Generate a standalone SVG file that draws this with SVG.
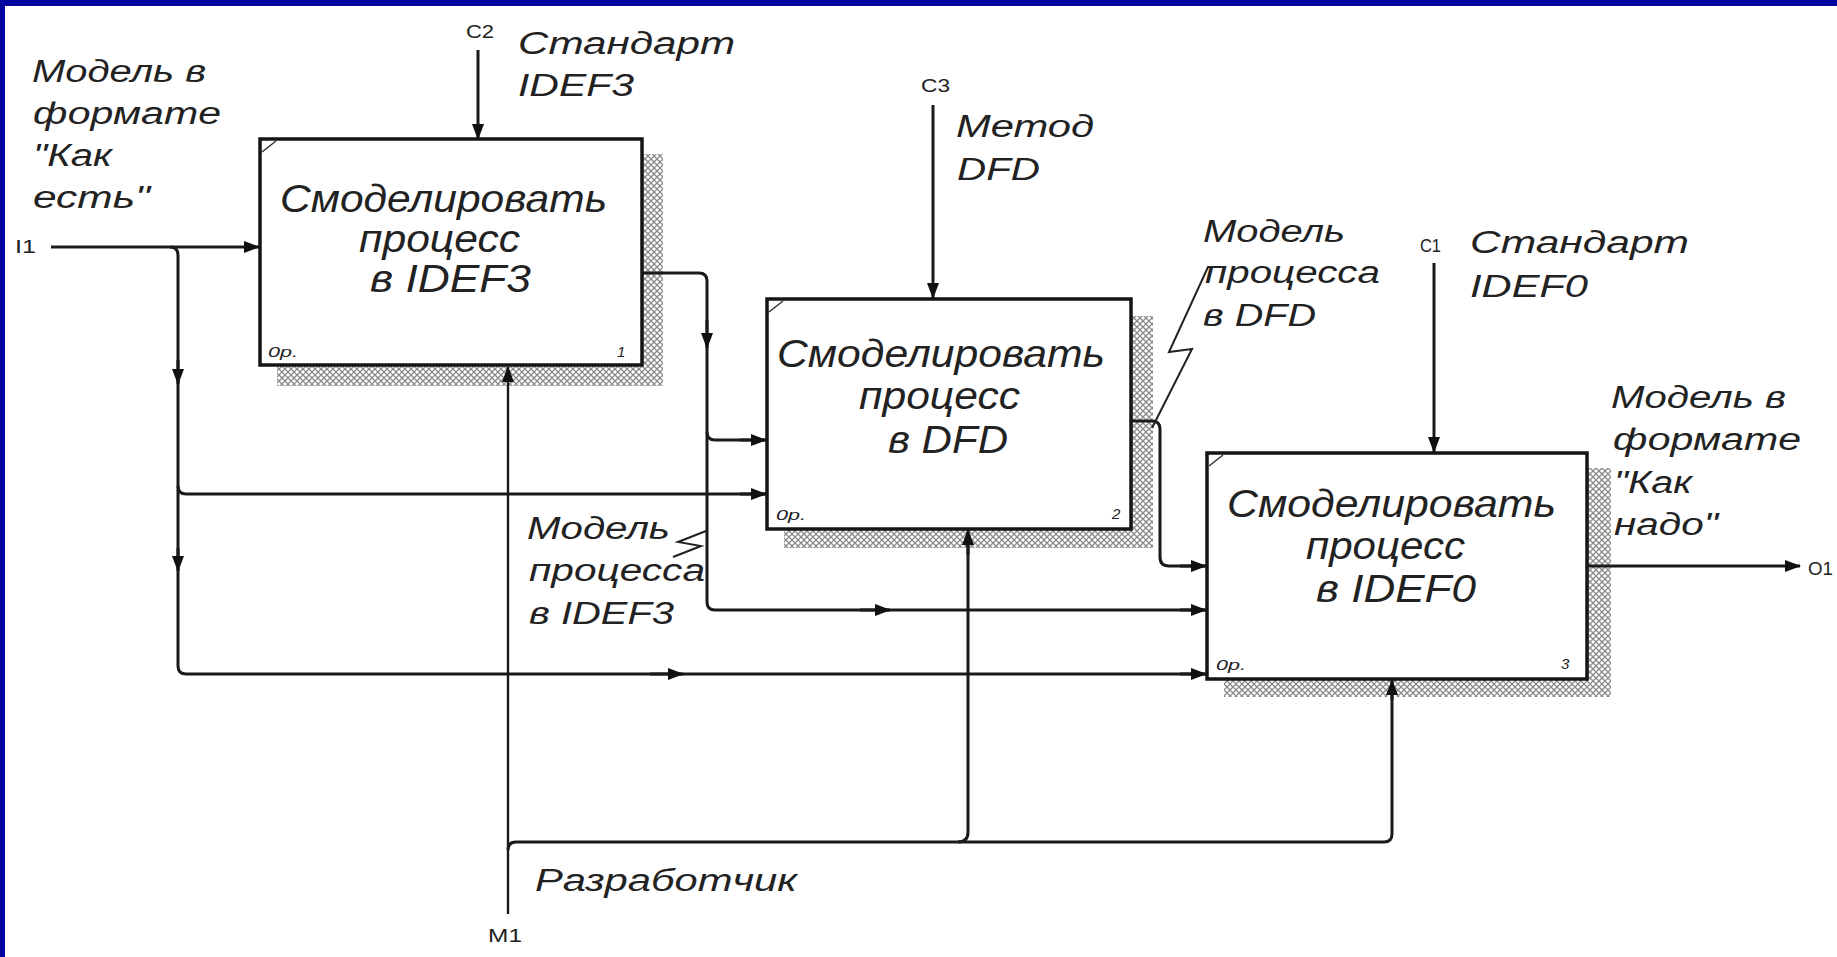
<svg xmlns="http://www.w3.org/2000/svg" width="1837" height="957" viewBox="0 0 1837 957">
<style>
.t{font-family:"Liberation Sans",Arial,sans-serif;font-style:italic;fill:#222;}
.bx{font-size:38px;}
.lb{font-size:31px;}
.sm{font-size:15px;}
.ic{font-family:"Liberation Sans",Arial,sans-serif;font-size:19px;fill:#222;}
.box{fill:#fff;stroke:#151515;stroke-width:3.5;}
.sh{fill:url(#hatch);}
.tick{stroke:#333;stroke-width:1.5;fill:none;}
.ln{fill:none;stroke:#1a1a1a;stroke-width:3;}
.thin{fill:none;stroke:#1a1a1a;stroke-width:2.4;}
.ar{fill:none;stroke:#1a1a1a;stroke-width:3;marker-end:url(#ah);}
.sq{fill:none;stroke:#222;stroke-width:2;}
</style>
<defs>
<pattern id="hatch" width="6" height="6" patternUnits="userSpaceOnUse">
<path d="M0,6 L6,0 M0,0 L6,6" stroke="#8a8a8a" stroke-width="1.3"/>
</pattern>
<marker id="ah" markerWidth="16" markerHeight="12" refX="15" refY="6" orient="auto" markerUnits="userSpaceOnUse">
<path d="M0,0 L16,6 L0,12 z" fill="#111"/>
</marker>
</defs>
<rect x="0" y="0" width="1837" height="957" fill="#fff"/>
<rect x="0" y="0" width="1837" height="6" fill="#0404a0"/>
<rect x="0" y="0" width="5" height="957" fill="#0404a0"/>

<g id="node1">
<rect class="sh" x="277" y="154" width="386" height="232"/>
<rect class="box" x="260" y="139" width="382" height="226"/>
<path class="tick" d="M262,152 L276,141"/>
<text class="t bx" x="280" y="212" textLength="327" lengthAdjust="spacingAndGlyphs">Смоделировать</text>
<text class="t bx" x="359" y="252" textLength="161" lengthAdjust="spacingAndGlyphs">процесс</text>
<text class="t bx" x="370" y="292" textLength="161" lengthAdjust="spacingAndGlyphs">в IDEF3</text>
<text class="t sm" x="268" y="357" textLength="30" lengthAdjust="spacingAndGlyphs">0р.</text>
<text class="t sm" x="617" y="357">1</text>
</g>

<g id="node2">
<rect class="sh" x="784" y="316" width="369" height="232"/>
<rect class="box" x="767" y="299" width="364" height="230"/>
<path class="tick" d="M769,312 L783,301"/>
<text class="t bx" x="777" y="367" textLength="328" lengthAdjust="spacingAndGlyphs">Смоделировать</text>
<text class="t bx" x="859" y="409" textLength="161" lengthAdjust="spacingAndGlyphs">процесс</text>
<text class="t bx" x="888" y="453" textLength="120" lengthAdjust="spacingAndGlyphs">в DFD</text>
<text class="t sm" x="776" y="520" textLength="30" lengthAdjust="spacingAndGlyphs">0р.</text>
<text class="t sm" x="1112" y="519">2</text>
</g>

<g id="node3">
<rect class="sh" x="1224" y="468" width="387" height="229"/>
<rect class="box" x="1207" y="453" width="380" height="226"/>
<path class="tick" d="M1209,466 L1223,455"/>
<text class="t bx" x="1227" y="517" textLength="329" lengthAdjust="spacingAndGlyphs">Смоделировать</text>
<text class="t bx" x="1306" y="559" textLength="159" lengthAdjust="spacingAndGlyphs">процесс</text>
<text class="t bx" x="1316" y="602" textLength="160" lengthAdjust="spacingAndGlyphs">в IDEF0</text>
<text class="t sm" x="1216" y="670" textLength="30" lengthAdjust="spacingAndGlyphs">0р.</text>
<text class="t sm" x="1561" y="669">3</text>
</g>

<g id="connectors">
<!-- I1 input -->
<path class="ar" d="M51,247 H259"/>
<path class="ln" d="M170,247 Q178,247 178,255 V666 Q178,674 186,674 H1205"/>
<path class="ar" d="M178,360 V384"/>
<path class="ar" d="M178,548 V571"/>
<path class="ar" d="M650,674 H683"/>
<path class="ar" d="M1180,674 H1206"/>
<path class="ln" d="M178,486 Q178,494 186,494 H767"/>
<path class="ar" d="M740,494 H766"/>
<!-- box1 output -->
<path class="ln" d="M642,273 H699 Q707,273 707,281 V602 Q707,610 715,610 H1205"/>
<path class="ar" d="M707,320 V348"/>
<path class="ar" d="M860,610 H890"/>
<path class="ar" d="M1180,610 H1206"/>
<path class="ln" d="M707,432 Q707,440 715,440 H767"/>
<path class="ar" d="M740,440 H766"/>
<!-- box2 output -->
<path class="ln" d="M1131,421 H1152 Q1160,421 1160,429 V557 Q1160,566 1169,566 H1205"/>
<path class="ar" d="M1180,566 H1206"/>
<!-- box3 output -->
<path class="ar" d="M1587,566 H1800"/>
<!-- controls -->
<path class="ar" d="M478,50 V139"/>
<path class="ar" d="M933,105 V298"/>
<path class="ar" d="M1434,263 V452"/>
<!-- mechanism -->
<path class="ar" d="M508,914 V367" style="stroke-width:2.4"/>
<path class="ln" d="M508,850 Q508,842 516,842 H1384 Q1392,842 1392,834 V690"/>
<path class="ar" d="M1392,700 V680"/>
<path class="ln" d="M958,842 Q968,842 968,832 V545"/>
<path class="ar" d="M968,555 V530"/>
<!-- squiggles -->
<path class="sq" d="M1220,267 H1208 L1169,352 L1192,349 L1152,428"/>
<path class="sq" d="M706,531 L678,542 L701,546 L673,557"/>
</g>

<g id="labels">
<text class="ic" x="15" y="253" textLength="21" lengthAdjust="spacingAndGlyphs">I1</text>
<text class="ic" x="466" y="38" textLength="28" lengthAdjust="spacingAndGlyphs">C2</text>
<text class="ic" x="921" y="92" textLength="29" lengthAdjust="spacingAndGlyphs">C3</text>
<text class="ic" x="1420" y="252" textLength="21" lengthAdjust="spacingAndGlyphs">C1</text>
<text class="ic" x="1808" y="575" textLength="25" lengthAdjust="spacingAndGlyphs">O1</text>
<text class="ic" x="488" y="942" textLength="34" lengthAdjust="spacingAndGlyphs">M1</text>

<text class="t lb" x="32" y="82" textLength="174" lengthAdjust="spacingAndGlyphs">Модель в</text>
<text class="t lb" x="33" y="124" textLength="188" lengthAdjust="spacingAndGlyphs">формате</text>
<text class="t lb" x="33" y="166" textLength="79" lengthAdjust="spacingAndGlyphs">"Как</text>
<text class="t lb" x="33" y="208" textLength="117" lengthAdjust="spacingAndGlyphs">есть"</text>

<text class="t lb" x="518" y="54" textLength="217" lengthAdjust="spacingAndGlyphs">Стандарт</text>
<text class="t lb" x="518" y="96" textLength="116" lengthAdjust="spacingAndGlyphs">IDEF3</text>

<text class="t lb" x="956" y="137" textLength="138" lengthAdjust="spacingAndGlyphs">Метод</text>
<text class="t lb" x="957" y="180" textLength="83" lengthAdjust="spacingAndGlyphs">DFD</text>

<text class="t lb" x="1203" y="242" textLength="142" lengthAdjust="spacingAndGlyphs">Модель</text>
<text class="t lb" x="1205" y="283" textLength="175" lengthAdjust="spacingAndGlyphs">процесса</text>
<text class="t lb" x="1203" y="326" textLength="113" lengthAdjust="spacingAndGlyphs">в DFD</text>

<text class="t lb" x="1470" y="253" textLength="219" lengthAdjust="spacingAndGlyphs">Стандарт</text>
<text class="t lb" x="1470" y="297" textLength="118" lengthAdjust="spacingAndGlyphs">IDEF0</text>

<text class="t lb" x="1611" y="408" textLength="175" lengthAdjust="spacingAndGlyphs">Модель в</text>
<text class="t lb" x="1613" y="450" textLength="188" lengthAdjust="spacingAndGlyphs">формате</text>
<text class="t lb" x="1614" y="493" textLength="78" lengthAdjust="spacingAndGlyphs">"Как</text>
<text class="t lb" x="1614" y="535" textLength="104" lengthAdjust="spacingAndGlyphs">надо"</text>

<text class="t lb" x="527" y="539" textLength="143" lengthAdjust="spacingAndGlyphs">Модель</text>
<text class="t lb" x="529" y="581" textLength="176" lengthAdjust="spacingAndGlyphs">процесса</text>
<text class="t lb" x="529" y="624" textLength="145" lengthAdjust="spacingAndGlyphs">в IDEF3</text>

<text class="t lb" x="535" y="891" textLength="262" lengthAdjust="spacingAndGlyphs">Разработчик</text>
</g>
</svg>
